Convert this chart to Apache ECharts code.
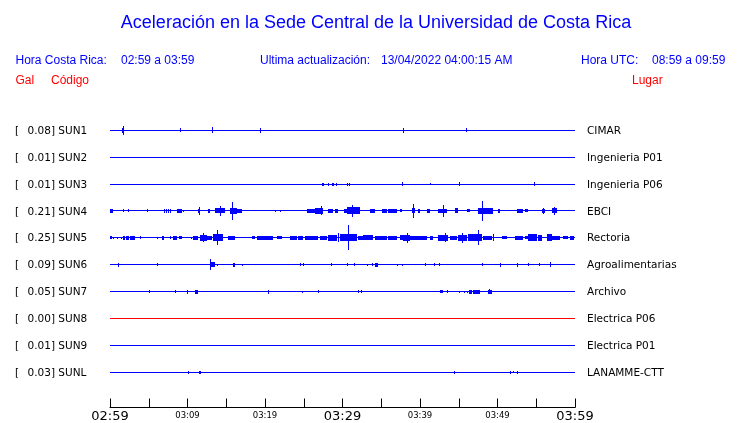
<!DOCTYPE html>
<html><head><meta charset="utf-8">
<script src="https://cdn.jsdelivr.net/npm/echarts@6/dist/echarts.min.js"></script>
<style>html,body{margin:0;padding:0;background:#fff}#c{width:740px;height:423px}</style>
</head><body><div id="c"></div>
<script>
// ---------- DATA ----------
const chartTitle = 'Aceleración en la Sede Central de la Universidad de Costa Rica';
const headerLeftLabel = 'Hora Costa Rica:';
const headerLeftValue = '02:59 a 03:59';
const headerMidLabel = 'Ultima actualización:';
const headerMidValue = '13/04/2022 04:00:15 AM';
const headerRightLabel = 'Hora UTC:';
const headerRightValue = '08:59 a 09:59';
const colHeaders = ['Gal', 'Código', 'Lugar'];

const stationCodes = ['SUN1','SUN2','SUN3','SUN4','SUN5','SUN6','SUN7','SUN8','SUN9','SUNL'];
const stationPlaces = ['CIMAR','Ingenieria P01','Ingenieria P06','EBCI','Rectoria','Agroalimentarias','Archivo','Electrica P06','Electrica P01','LANAMME-CTT'];
const stationMaxGal = ['0.08','0.01','0.01','0.21','0.25','0.09','0.05','0.00','0.01','0.03'];

// time axis: minutes after 02:59
const tickMinutes = [0, 10, 20, 30, 40, 50, 60];
const tickText = ['02:59','03:09','03:19','03:29','03:39','03:49','03:59'];
const bigTickText = ['02:59','03:29','03:59'];

// events: [start minute, end minute, half amplitude (Gal)]
const sun1Events = [[1.55,1.85,0.04],[1.72,1.72,0.08],[9.03,9.03,0.03],[13.1,13.3,0.05],[19.35,19.35,0.04],[37.85,37.85,0.04],[45.9,45.9,0.03]];
const sun2Events = [];
const sun3Events = [[27.4,27.6,0.02],[28.17,28.17,0.02],[28.6,28.6,0.02],[28.8,28.8,0.02],[29.16,29.16,0.02],[30.54,30.54,0.02],[30.84,30.84,0.02],[37.72,37.72,0.03],[41.33,41.33,0.01],[45.07,45.07,0.03],[54.75,54.75,0.03]];
const sun4Events = [
  [0,0.35,0.03],[1.72,1.72,0.02],[2.28,2.28,0.02],[4.74,4.74,0.02],
  [7.0,7.0,0.025],[7.26,7.26,0.025],[7.52,7.52,0.025],[7.78,7.78,0.025],
  [8.68,9.29,0.03],[9.46,9.46,0.01],
  [11.32,11.61,0.03],[11.42,11.42,0.07],[12.68,12.9,0.025],
  [13.55,14.19,0.04],[14.19,14.19,0.09],[14.19,14.84,0.04],
  [15.48,16.35,0.05],[15.78,15.78,0.18],[16.35,16.99,0.03],
  [21.29,21.29,0.01],[21.94,21.94,0.01],
  [25.38,26.45,0.03],[26.45,27.52,0.05],[27.23,27.23,0.08],
  [28.17,28.81,0.03],[29.03,29.46,0.03],
  [30.19,30.54,0.03],[30.54,32.26,0.06],[31.26,31.26,0.12],
  [33.55,34.19,0.03],[35.06,35.7,0.025],[35.9,36.99,0.03],[37.42,37.64,0.02],
  [38.93,39.35,0.04],[39.14,39.14,0.13],[39.78,40.0,0.03],[40.86,41.29,0.03],
  [42.36,43.45,0.03],[42.93,42.93,0.11],[44.52,44.94,0.04],[46.03,46.45,0.02],
  [47.52,49.46,0.05],[48.04,48.04,0.19],[50.1,50.32,0.03],
  [52.48,53.33,0.03],[53.55,53.97,0.02],
  [55.7,56.13,0.03],[55.91,55.91,0.055],[56.99,57.64,0.04],[57.29,57.29,0.065]
];
const sun5Events = [
  [0,0.22,0.02],[0.43,0.43,0.01],[0.86,0.86,0.01],[1.38,1.38,0.01],
  [1.64,1.97,0.025],[2.06,2.41,0.03],[2.58,3.23,0.03],[3.87,3.87,0.02],
  [6.03,6.03,0.01],[6.67,6.97,0.025],[7.74,7.74,0.02],[8.09,8.61,0.03],[8.94,9.25,0.02],
  [10.41,10.41,0.01],[10.75,11.39,0.03],[11.61,12.48,0.05],[12.04,12.04,0.08],
  [12.48,13.12,0.03],[13.33,14.62,0.06],[13.77,13.77,0.14],[15.26,16.13,0.03],
  [18.28,18.71,0.02],[18.93,19.35,0.03],[19.35,20.0,0.03],[20.0,21.07,0.025],
  [21.51,22.15,0.02],[23.23,24.09,0.025],[24.3,24.94,0.025],[25.16,26.88,0.03],
  [27.1,27.96,0.025],[28.17,29.25,0.05],[29.46,29.46,0.08],
  [29.68,31.83,0.06],[30.75,30.75,0.24],[32.04,32.68,0.03],[32.68,33.97,0.04],
  [34.19,35.7,0.03],[35.9,36.99,0.03],[37.42,37.85,0.04],
  [37.85,38.71,0.05],[38.28,38.28,0.09],[38.71,40.0,0.03],[39.78,40.86,0.03],
  [41.29,41.72,0.03],[42.36,43.65,0.05],[43.23,43.23,0.08],[43.87,44.74,0.03],
  [44.94,46.03,0.05],[45.38,45.38,0.09],[46.23,47.96,0.06],[47.52,47.52,0.14],
  [48.17,49.25,0.03],[49.46,49.46,0.06],[50.54,51.19,0.02],
  [52.26,53.33,0.025],[53.55,53.97,0.02],[53.97,55.06,0.06],[55.26,55.7,0.05],
  [56.35,56.99,0.06],[56.99,58.06,0.03],[58.49,59.14,0.02],[59.35,59.91,0.03]
];
const sun6Events = [
  [1.05,1.2,0.03],[6.06,6.06,0.02],[12.9,12.9,0.1],[12.9,13.55,0.04],[13.77,13.77,0.01],
  [15.91,16.13,0.03],[16.97,16.97,0.01],[24.52,24.52,0.02],[24.86,24.86,0.02],
  [28.52,28.52,0.02],[30.54,30.54,0.02],[31.48,31.48,0.02],[33.12,33.12,0.01],
  [33.77,33.77,0.02],[34.19,34.62,0.03],[37.07,37.07,0.01],[37.72,37.72,0.01],
  [40.65,40.65,0.02],[41.85,41.85,0.02],[42.49,42.49,0.02],[47.96,47.96,0.02],
  [50.32,50.32,0.03],[52.48,52.68,0.03],[53.97,53.97,0.02],[55.35,55.35,0.02],[56.77,56.77,0.04]
];
const sun7Events = [
  [5.07,5.07,0.02],[8.43,8.43,0.02],[9.9,9.9,0.03],[10.97,11.39,0.03],
  [20.35,20.35,0.03],[24.81,24.81,0.01],[26.88,26.88,0.02],[32.04,32.04,0.02],[32.35,32.35,0.02],
  [42.58,42.92,0.02],[43.45,43.45,0.02],[45.07,45.07,0.01],[45.68,45.68,0.01],[46.03,46.03,0.01],
  [46.32,46.67,0.03],[46.88,47.74,0.03],[48.81,49.25,0.03],[48.94,48.94,0.04]
];
const sun8Events = [];
const sun9Events = [];
const sunlEvents = [[10.1,10.1,0.02],[11.52,11.78,0.02],[44.43,44.43,0.02],[51.65,51.65,0.02],[52.04,52.04,0.01],[52.52,52.52,0.02]];

const allEvents = [sun1Events,sun2Events,sun3Events,sun4Events,sun5Events,sun6Events,sun7Events,sun8Events,sun9Events,sunlEvents];

// ---------- STYLE ----------
const BLUE = '#0000ff', RED = '#ff0000';
const stationColors = ['#0000ff','#0000ff','#0000ff','#0000ff','#0000ff','#0000ff','#0000ff','#ff0000','#0000ff','#0000ff'];
const GAL_TO_UNITS = 50 / 27;   // display gain: trace spacing = 1 unit

const chart = echarts.init(document.getElementById('c'), null, {renderer: 'canvas'});
const bases = stationCodes.map((_, i) => 9 - i);

const series = allEvents.map((ev, i) => ({
  type: 'custom',
  silent: true,
  clip: false,
  animation: false,
  data: [[0, 60, 0, bases[i]]].concat(ev.map(e => [e[0], e[1], e[2], bases[i]])),
  encode: {x: [0, 1], y: 3},
  renderItem: function (params, api) {
    const t0 = api.value(0), t1 = api.value(1), amp = api.value(2) * GAL_TO_UNITS, b = api.value(3);
    const pTop = api.coord([t0, b + amp]);
    const pBot = api.coord([t1, b - amp]);
    const x0 = Math.round(pTop[0]), x1 = Math.round(pBot[0]);
    const top = Math.round(pTop[1]), bot = Math.round(pBot[1]);
    return {
      type: 'rect',
      shape: {x: x0, y: top, width: Math.max(1, x1 - x0), height: Math.max(0, bot - top) + 1},
      style: {fill: stationColors[i]}
    };
  }
}));

chart.setOption({
  animation: false,
  backgroundColor: '#fff',
  grid: {left: 110, right: 165, top: 103, bottom: 14, containLabel: false},
  xAxis: {
    type: 'value', min: 0, max: 60, interval: 5,
    axisLine: {show: true, onZero: false, lineStyle: {color: '#000', width: 1}},
    axisTick: {show: true, inside: true, length: 9, lineStyle: {color: '#000', width: 1}},
    splitLine: {show: false},
    axisLabel: {
      show: true, margin: 1, showMinLabel: true, showMaxLabel: true,
      formatter: function (v) {
        const k = tickMinutes.indexOf(Math.round(v));
        if (k < 0 || Math.abs(v - Math.round(v)) > 1e-6) return '';
        const t = tickText[k];
        return bigTickText.indexOf(t) >= 0 ? '{big|' + t + '}' : '{small|' + t + '}';
      },
      rich: {
        big: {fontSize: 13, fontFamily: 'DejaVu Sans', color: '#000', lineHeight: 16},
        small: {fontSize: 8.5, fontFamily: 'DejaVu Sans', color: '#000', lineHeight: 15}
      }
    }
  },
  yAxis: {type: 'value', min: -4 / 3, max: 10, show: false},
  series: series
});

// ---------- TEXT ----------
const gfx = [];
function txt(x, y, s, font, color, align) {
  gfx.push({type: 'text', x: x, y: y, silent: true,
    style: {text: s, font: font, fill: color, textAlign: align || 'left', textVerticalAlign: 'middle'}});
}
const F12 = '12px "Liberation Sans", Arial, sans-serif';
txt(376, 23.5, chartTitle, '18px "Liberation Sans", Arial, sans-serif', BLUE, 'center');
txt(15.5, 61, headerLeftLabel, F12, BLUE);
txt(121, 61, headerLeftValue, F12, BLUE);
txt(260, 61, headerMidLabel, F12, BLUE);
txt(381, 61, headerMidValue, F12, BLUE);
txt(581, 61, headerRightLabel, F12, BLUE);
txt(652, 61, headerRightValue, F12, BLUE);
txt(15.5, 81, colHeaders[0], F12, RED);
txt(51, 81, colHeaders[1], F12, RED);
txt(632, 81, colHeaders[2], F12, RED);

const LF = '10.5px "DejaVu Sans", sans-serif';
const xRight = chart.convertToPixel({xAxisIndex: 0}, 60);
stationCodes.forEach((code, i) => {
  const y = chart.convertToPixel({yAxisIndex: 0}, bases[i]) + 1.3;
  txt(15, y, '[', LF, '#000');
  txt(27.5, y, stationMaxGal[i] + '] ' + code, LF, '#000');
  txt(xRight + 12, y, stationPlaces[i], LF, '#000');
});
chart.setOption({graphic: {elements: gfx}});
</script>
</body></html>
